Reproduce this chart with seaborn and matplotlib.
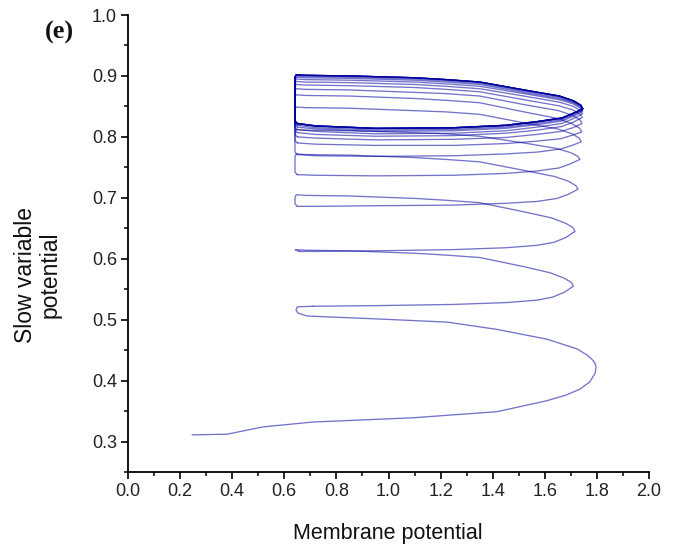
import matplotlib
matplotlib.use("Agg")
import matplotlib.pyplot as plt
import numpy as np
import pandas as pd
import seaborn as sns
from matplotlib.ticker import MultipleLocator, FormatStrFormatter

# ---- trajectory (membrane potential v, slow variable w) ----
# initial sweep to the right, first return to the left and small hook
c0_v = [0.246, 0.38, 0.518, 0.71, 1.094, 1.417, 1.608, 1.68, 1.735, 1.773, 1.793, 1.797,
        1.792, 1.781, 1.762, 1.724, 1.608, 1.417, 1.225, 0.967, 0.687, 0.652, 0.645, 0.65, 0.71]
c0_w = [0.311, 0.312, 0.324, 0.332, 0.339, 0.349, 0.367, 0.376, 0.386, 0.398, 0.412, 0.422,
        0.429, 0.435, 0.442, 0.452, 0.468, 0.484, 0.496, 0.501, 0.506, 0.511, 0.516, 0.521, 0.522]

c1_v = [0.71, 0.95, 1.25, 1.45, 1.57, 1.63, 1.675, 1.71, 1.702, 1.675, 1.62, 1.52, 1.35,
        1.22, 1.10, 0.85, 0.68, 0.646, 0.642, 0.66]
c1_w = [0.522, 0.523, 0.525, 0.528, 0.532, 0.537, 0.545, 0.555, 0.561, 0.568, 0.577, 0.587,
        0.602, 0.606, 0.609, 0.613, 0.614, 0.615, 0.614, 0.612]

c2_v = [0.66, 0.72, 0.95, 1.25, 1.45, 1.57, 1.636, 1.681, 1.716, 1.708, 1.681, 1.626, 1.52,
        1.35, 1.22, 1.10, 0.85, 0.68, 0.646, 0.641, 0.641, 0.65]
c2_w = [0.612, 0.612, 0.613, 0.615, 0.618, 0.622, 0.627, 0.635, 0.645, 0.651, 0.658, 0.667,
        0.677, 0.692, 0.696, 0.699, 0.703, 0.704, 0.705, 0.701, 0.690, 0.686]

c3_v = [0.65, 0.72, 0.95, 1.25, 1.45, 1.57, 1.647, 1.692, 1.727, 1.719, 1.692, 1.637, 1.52,
        1.35, 1.22, 1.10, 0.85, 0.68, 0.646, 0.641, 0.641, 0.65]
c3_w = [0.686, 0.686, 0.687, 0.688, 0.691, 0.694, 0.699, 0.706, 0.714, 0.720, 0.727, 0.735,
        0.745, 0.759, 0.763, 0.766, 0.770, 0.771, 0.772, 0.768, 0.742, 0.738]

c4_v = [0.65, 0.72, 0.95, 1.25, 1.45, 1.57, 1.655, 1.70, 1.735, 1.727, 1.70, 1.645, 1.52,
        1.35, 1.22, 1.10, 0.85, 0.68, 0.646, 0.641, 0.641, 0.65]
c4_w = [0.738, 0.737, 0.736, 0.737, 0.740, 0.744, 0.749, 0.756, 0.763, 0.768, 0.774, 0.781,
        0.790, 0.801, 0.805, 0.807, 0.810, 0.811, 0.812, 0.808, 0.775, 0.771]

c5_v = [0.65, 0.72, 0.95, 1.25, 1.45, 1.57, 1.66, 1.705, 1.74, 1.732, 1.705, 1.65, 1.52,
        1.35, 1.22, 1.10, 0.85, 0.68, 0.646, 0.641, 0.641, 0.65]
c5_w = [0.771, 0.769, 0.768, 0.769, 0.772, 0.775, 0.780, 0.786, 0.792, 0.798, 0.805, 0.813,
        0.823, 0.837, 0.841, 0.843, 0.847, 0.848, 0.849, 0.845, 0.794, 0.790]

c6_v = [0.65, 0.72, 0.95, 1.25, 1.45, 1.57, 1.662, 1.707, 1.742, 1.734, 1.707, 1.652, 1.52,
        1.35, 1.22, 1.10, 0.85, 0.68, 0.646, 0.641, 0.641, 0.65]
c6_w = [0.790, 0.788, 0.786, 0.786, 0.789, 0.793, 0.797, 0.803, 0.808, 0.814, 0.821, 0.830,
        0.841, 0.856, 0.860, 0.863, 0.867, 0.868, 0.869, 0.865, 0.804, 0.800]

c7_v = [0.65, 0.72, 0.95, 1.25, 1.45, 1.57, 1.663, 1.708, 1.743, 1.735, 1.708, 1.653, 1.52,
        1.35, 1.22, 1.10, 0.85, 0.68, 0.646, 0.641, 0.641, 0.65]
c7_w = [0.800, 0.798, 0.795, 0.796, 0.799, 0.804, 0.809, 0.815, 0.822, 0.828, 0.835, 0.843,
        0.853, 0.867, 0.871, 0.873, 0.877, 0.878, 0.879, 0.875, 0.811, 0.807]

c8_v = [0.65, 0.72, 0.95, 1.25, 1.45, 1.57, 1.664, 1.709, 1.744, 1.736, 1.709, 1.654, 1.52,
        1.35, 1.22, 1.10, 0.85, 0.68, 0.646, 0.641, 0.641, 0.65]
c8_w = [0.807, 0.804, 0.801, 0.802, 0.806, 0.811, 0.817, 0.824, 0.832, 0.837, 0.844, 0.851,
        0.861, 0.874, 0.878, 0.881, 0.884, 0.885, 0.886, 0.882, 0.816, 0.812]

c9_v = [0.65, 0.72, 0.95, 1.25, 1.45, 1.57, 1.665, 1.71, 1.745, 1.737, 1.71, 1.655, 1.52,
        1.35, 1.22, 1.10, 0.85, 0.68, 0.646, 0.641, 0.641, 0.65]
c9_w = [0.812, 0.809, 0.805, 0.806, 0.810, 0.816, 0.822, 0.830, 0.838, 0.843, 0.850, 0.857,
        0.867, 0.879, 0.883, 0.886, 0.889, 0.890, 0.891, 0.887, 0.820, 0.816]
c10_w = [0.816, 0.813, 0.809, 0.810, 0.814, 0.820, 0.826, 0.834, 0.842, 0.847, 0.854, 0.861,
         0.871, 0.883, 0.887, 0.890, 0.893, 0.894, 0.895, 0.891, 0.823, 0.819]
c11_w = [0.819, 0.815, 0.811, 0.812, 0.816, 0.822, 0.828, 0.836, 0.844, 0.849, 0.856, 0.863,
         0.873, 0.886, 0.890, 0.893, 0.896, 0.897, 0.898, 0.894, 0.825, 0.821]
c12_w = [0.821, 0.817, 0.813, 0.814, 0.818, 0.824, 0.830, 0.838, 0.845, 0.851, 0.857, 0.865,
         0.875, 0.888, 0.892, 0.895, 0.898, 0.899, 0.900, 0.896, 0.826, 0.822]

# limit cycle (traversed repeatedly)
limit_v = [0.65, 0.72, 0.95, 1.25, 1.45, 1.57, 1.666, 1.711, 1.746, 1.738, 1.711, 1.656, 1.52,
           1.35, 1.22, 1.10, 0.85, 0.68, 0.646, 0.641, 0.641, 0.65]
limit_w = [0.822, 0.818, 0.814, 0.815, 0.819, 0.825, 0.831, 0.839, 0.846, 0.852, 0.859, 0.867,
           0.877, 0.890, 0.894, 0.897, 0.900, 0.901, 0.902, 0.898, 0.826, 0.822]
n_limit_turns = 6

x_ticks = [0.0, 0.2, 0.4, 0.6, 0.8, 1.0, 1.2, 1.4, 1.6, 1.8, 2.0]
y_ticks = [0.3, 0.4, 0.5, 0.6, 0.7, 0.8, 0.9, 1.0]

sweeps = [(c0_v, c0_w), (c1_v, c1_w), (c2_v, c2_w), (c3_v, c3_w), (c4_v, c4_w),
          (c5_v, c5_w), (c6_v, c6_w), (c7_v, c7_w), (c8_v, c8_w), (c9_v, c9_w),
          (c9_v, c10_w), (c9_v, c11_w), (c9_v, c12_w)]
sweeps += [(limit_v, limit_w)] * n_limit_turns

frames = []
for i, (v, w) in enumerate(sweeps):
    frames.append(pd.DataFrame({"v": v, "w": w, "cycle": i, "step": range(len(v))}))
df = pd.concat(frames, ignore_index=True)

sns.set_theme(style="ticks")
plt.rcParams['font.family'] = ['Liberation Sans', 'DejaVu Sans']

fig = plt.figure(figsize=(6.82, 5.54), dpi=100)
ax = fig.add_axes([128 / 682, 82 / 554, 521 / 682, 457 / 554])

sns.lineplot(data=df, x="v", y="w", units="cycle", estimator=None, sort=False,
             color="#0000a0", alpha=0.55, lw=0.95, ax=ax, legend=False)

ax.set_xlim(0.0, 2.0)
ax.set_ylim(0.25, 1.0)
ax.set_xticks(x_ticks)
ax.set_yticks(y_ticks)
ax.xaxis.set_minor_locator(MultipleLocator(0.1))
ax.yaxis.set_minor_locator(MultipleLocator(0.05))
ax.xaxis.set_major_formatter(FormatStrFormatter('%.1f'))
ax.yaxis.set_major_formatter(FormatStrFormatter('%.1f'))

sns.despine(ax=ax)
for s in ["left", "bottom"]:
    ax.spines[s].set_linewidth(1.3)
    ax.spines[s].set_color("black")
ax.tick_params(which="major", direction="out", length=5, width=1.2, colors="black",
               labelsize=13, labelcolor="#222222", pad=3)
ax.tick_params(which="minor", direction="out", length=3, width=1.1, colors="black")

ax.set_xlabel("Membrane potential", fontsize=15.5, color="#111111")
ax.xaxis.label.set_va("center")
ax.xaxis.set_label_coords((388 - 128) / 521, (472 - 534) / 457)
ax.set_ylabel("Slow variable\npotential", fontsize=16.5, color="#111111",
              multialignment="center", linespacing=1.1)
ax.yaxis.label.set_va("center")
ax.yaxis.set_label_coords((38 - 128) / 521, (472 - 275) / 457)

fig.text(59 / 682, 1 - 32 / 554, "(e)", fontfamily=["Liberation Serif", "DejaVu Serif"],
         fontweight="bold", fontsize=19, ha="center", va="center", color="#111111")

fig.savefig("out.png", dpi=100)
